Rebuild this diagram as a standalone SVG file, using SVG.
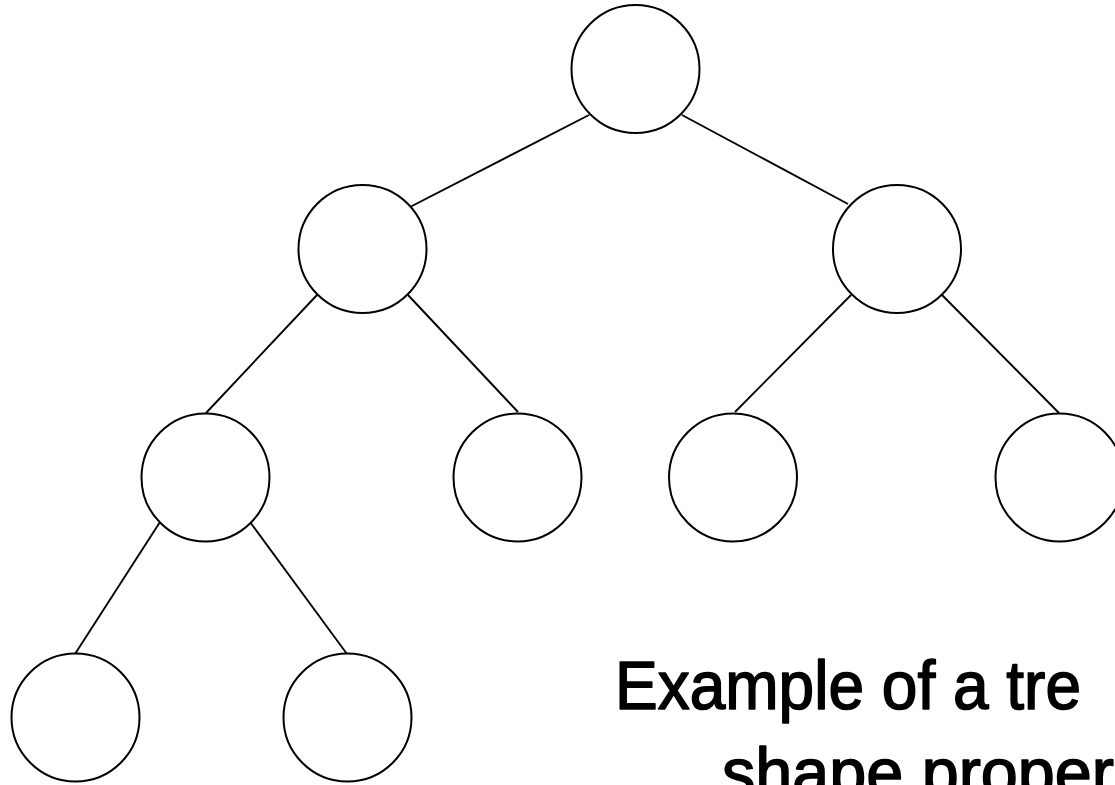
<svg xmlns="http://www.w3.org/2000/svg" width="1115" height="785" viewBox="0 0 1115 785">
  <style>
    .node { fill: #ffffff; stroke: #000000; stroke-width: 2; }
    .edge { stroke: #000000; stroke-width: 1.9; fill: none; }
    .caption { font-family: "Comic Sans MS", "Liberation Sans", "DejaVu Sans", sans-serif; font-size: 68px; fill: #000000; stroke: #000000; stroke-width: 1.6; stroke-linejoin: round; }
  </style>
  <rect width="1115" height="785" fill="#ffffff"/>

  <!-- parent-child links -->
  <g id="connectors">
    <line class="edge" x1="589" y1="115" x2="410" y2="207"/>
    <line class="edge" x1="682" y1="115" x2="848" y2="204"/>
    <line class="edge" x1="317" y1="295" x2="206" y2="413"/>
    <line class="edge" x1="408" y1="295" x2="518" y2="412"/>
    <line class="edge" x1="851" y1="295" x2="735" y2="412"/>
    <line class="edge" x1="942" y1="295" x2="1059" y2="413"/>
    <line class="edge" x1="160" y1="522" x2="75" y2="654"/>
    <line class="edge" x1="250" y1="522" x2="347" y2="654"/>
  </g>

  <!-- tree nodes -->
  <g id="n-root"><circle class="node" cx="635.5" cy="69" r="64"/></g>
  <g id="n-l"><circle class="node" cx="362.5" cy="249" r="64"/></g>
  <g id="n-r"><circle class="node" cx="897" cy="249" r="64"/></g>
  <g id="n-ll"><circle class="node" cx="205.5" cy="477.5" r="64"/></g>
  <g id="n-lr"><circle class="node" cx="517.5" cy="477.5" r="64"/></g>
  <g id="n-rl"><circle class="node" cx="733" cy="477.5" r="64"/></g>
  <g id="n-rr"><circle class="node" cx="1059.5" cy="477.5" r="64"/></g>
  <g id="n-lll"><circle class="node" cx="75.5" cy="717.5" r="64"/></g>
  <g id="n-llr"><circle class="node" cx="347.5" cy="717.5" r="64"/></g>

  <g id="caption">
    <text class="caption" x="615" y="709" textLength="466" lengthAdjust="spacingAndGlyphs">Example of a tre</text>
    <text class="caption" x="722" y="796" textLength="392" lengthAdjust="spacingAndGlyphs">shape proper</text>
  </g>
</svg>
